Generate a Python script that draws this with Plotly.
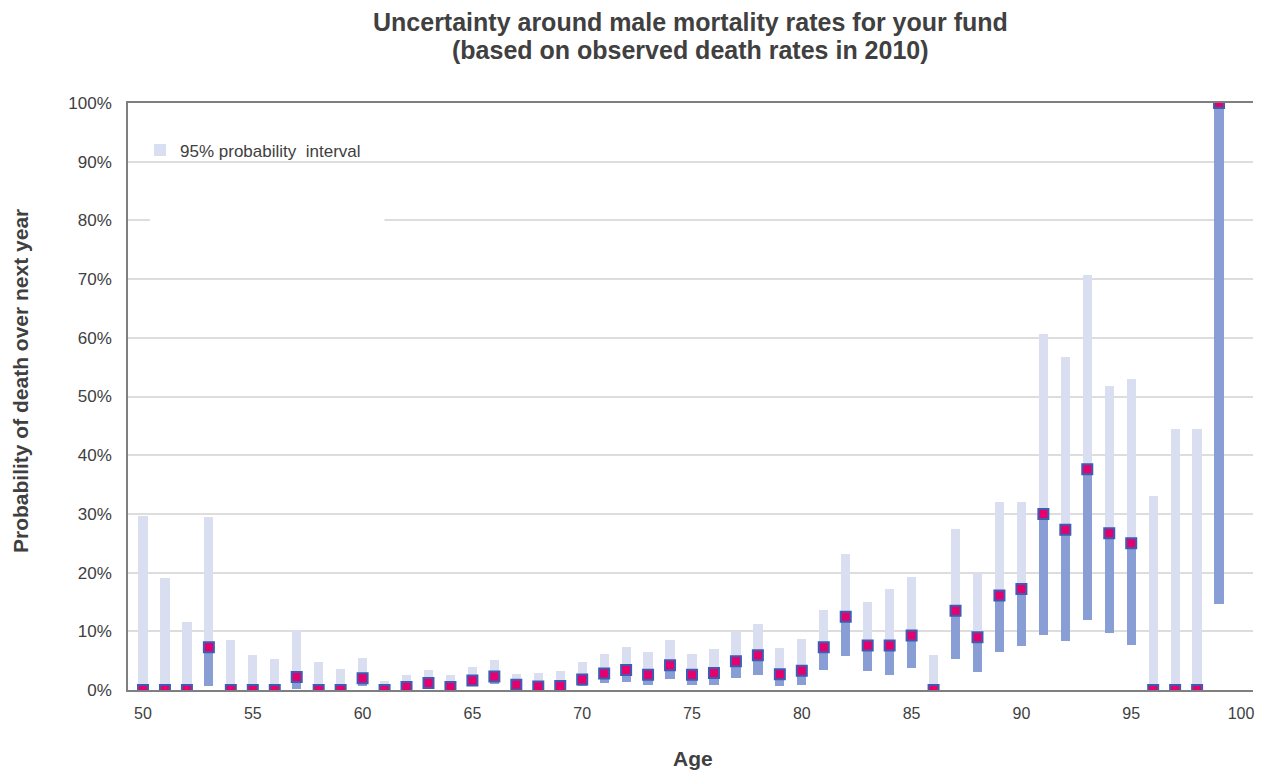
import plotly.graph_objects as go

# Age-by-age mortality estimates with 95% probability intervals (fractions)
ages = list(range(50, 100))

estimate = [
    0.000, 0.000, 0.000, 0.073, 0.000, 0.000, 0.000, 0.022, 0.000, 0.000,
    0.020, 0.000, 0.005, 0.012, 0.005, 0.016, 0.023, 0.009, 0.006, 0.007,
    0.018, 0.028, 0.034, 0.026, 0.042, 0.026, 0.029, 0.049, 0.059, 0.027,
    0.033, 0.073, 0.125, 0.076, 0.076, 0.093, 0.000, 0.135, 0.090, 0.161,
    0.172, 0.300, 0.273, 0.376, 0.267, 0.250, 0.000, 0.000, 0.000, 1.000,
]

lower = [
    0.000, 0.000, 0.000, 0.007, 0.000, 0.000, 0.000, 0.001, 0.000, 0.000,
    0.006, 0.000, 0.000, 0.003, 0.000, 0.006, 0.010, 0.002, 0.000, 0.001,
    0.006, 0.012, 0.014, 0.009, 0.019, 0.009, 0.009, 0.021, 0.026, 0.007,
    0.009, 0.034, 0.058, 0.033, 0.026, 0.038, 0.000, 0.053, 0.031, 0.065,
    0.075, 0.094, 0.084, 0.120, 0.097, 0.077, 0.000, 0.000, 0.000, 0.147,
]

upper = [
    0.297, 0.191, 0.116, 0.295, 0.085, 0.060, 0.053, 0.102, 0.048, 0.036,
    0.054, 0.015, 0.025, 0.034, 0.025, 0.039, 0.051, 0.028, 0.029, 0.032,
    0.048, 0.061, 0.073, 0.065, 0.085, 0.061, 0.070, 0.099, 0.112, 0.072,
    0.087, 0.136, 0.232, 0.150, 0.172, 0.193, 0.060, 0.274, 0.200, 0.320,
    0.320, 0.607, 0.567, 0.707, 0.518, 0.529, 0.331, 0.445, 0.445, 1.000,
]

title_lines = [
    "Uncertainty around male mortality rates for your fund",
    "(based on observed death rates in 2010)",
]
x_title = "Age"
y_title = "Probability of death over next year"

x_ticks = list(range(50, 101, 5))
y_ticks = [i / 10 for i in range(11)]

LIGHT = "#D9DFF0"
DARK = "#889ED4"
PINK = "#E5006E"
EDGE = "#3F5CB2"
TEXT = "#404040"
FONT = "Liberation Sans, Arial, sans-serif"

below_est = [e - l for e, l in zip(estimate, lower)]
above_est = [u - e for u, e in zip(upper, estimate)]

fig = go.Figure()

# lower part of the interval: from the lower bound up to the estimate
fig.add_trace(go.Bar(
    x=ages, y=below_est, base=lower, width=0.42,
    marker=dict(color=DARK, line=dict(width=0)),
    showlegend=False, hoverinfo="skip",
))

# upper part of the interval: from the estimate up to the upper bound
fig.add_trace(go.Bar(
    x=ages, y=above_est, base=estimate, width=0.42,
    marker=dict(color=LIGHT, line=dict(width=0)),
    name="95% probability\u00a0 interval",
))

# observed rate
fig.add_trace(go.Scatter(
    x=ages, y=estimate, mode="markers",
    marker=dict(symbol="square", size=10, color=PINK,
                line=dict(color=EDGE, width=2)),
    showlegend=False,
))

bold = dict(family=FONT, color=TEXT, weight="bold")

# two-line heading plus the axis titles, placed in paper coordinates
annotations = [
    dict(text=line, xref="paper", yref="paper", x=0.5, y=y,
         xanchor="center", yanchor="middle", showarrow=False,
         font=dict(size=25, **bold))
    for line, y in zip(title_lines, [(690 - 22) / 587, (690 - 50) / 587])
]
annotations.append(dict(
    text=x_title, xref="paper", yref="paper",
    x=(693 - 128) / 1125, y=(690 - 758) / 587,
    xanchor="center", yanchor="middle", showarrow=False,
    font=dict(size=21, **bold),
))
annotations.append(dict(
    text=y_title, xref="paper", yref="paper",
    x=(20 - 128) / 1125, y=(690 - 381) / 587, textangle=-90,
    xanchor="center", yanchor="middle", showarrow=False,
    font=dict(size=21, **bold),
))

fig.update_layout(
    width=1267, height=772,
    margin=dict(l=128, r=14, t=103, b=82),
    paper_bgcolor="white", plot_bgcolor="white",
    barmode="overlay", bargap=0,
    font=dict(family=FONT, color=TEXT, size=16),
    annotations=annotations,
    legend=dict(
        x=0.0107, xanchor="left", y=0.95, yanchor="top",
        bgcolor="rgba(0,0,0,0)",
        font=dict(family=FONT, size=17, color=TEXT),
    ),
    xaxis=dict(
        range=[49.317, 100.546],
        tickmode="array", tickvals=x_ticks,
        ticktext=[str(v) for v in x_ticks],
        showgrid=False, zeroline=False,
        showline=True, linecolor="#7F7F7F", linewidth=2, mirror=True,
        ticks="", ticklabelstandoff=8,
        tickfont=dict(size=16, color=TEXT),
        layer="below traces", automargin=False,
    ),
    yaxis=dict(
        range=[0, 1.0],
        tickmode="array", tickvals=y_ticks, tickformat=".0%",
        showgrid=True, gridcolor="#DDDDDD", gridwidth=1.5,
        zeroline=False,
        showline=True, linecolor="#7F7F7F", linewidth=1.5,
        ticks="", ticklabelstandoff=11,
        tickfont=dict(size=17, color=TEXT),
        layer="below traces", automargin=False,
    ),
    shapes=[dict(
        type="rect", xref="paper", yref="y", layer="above",
        x0=0.0195, x1=0.228, y0=0.795, y1=0.805,
        fillcolor="white", line=dict(width=0),
    )],
)

fig.write_html("out.html")
